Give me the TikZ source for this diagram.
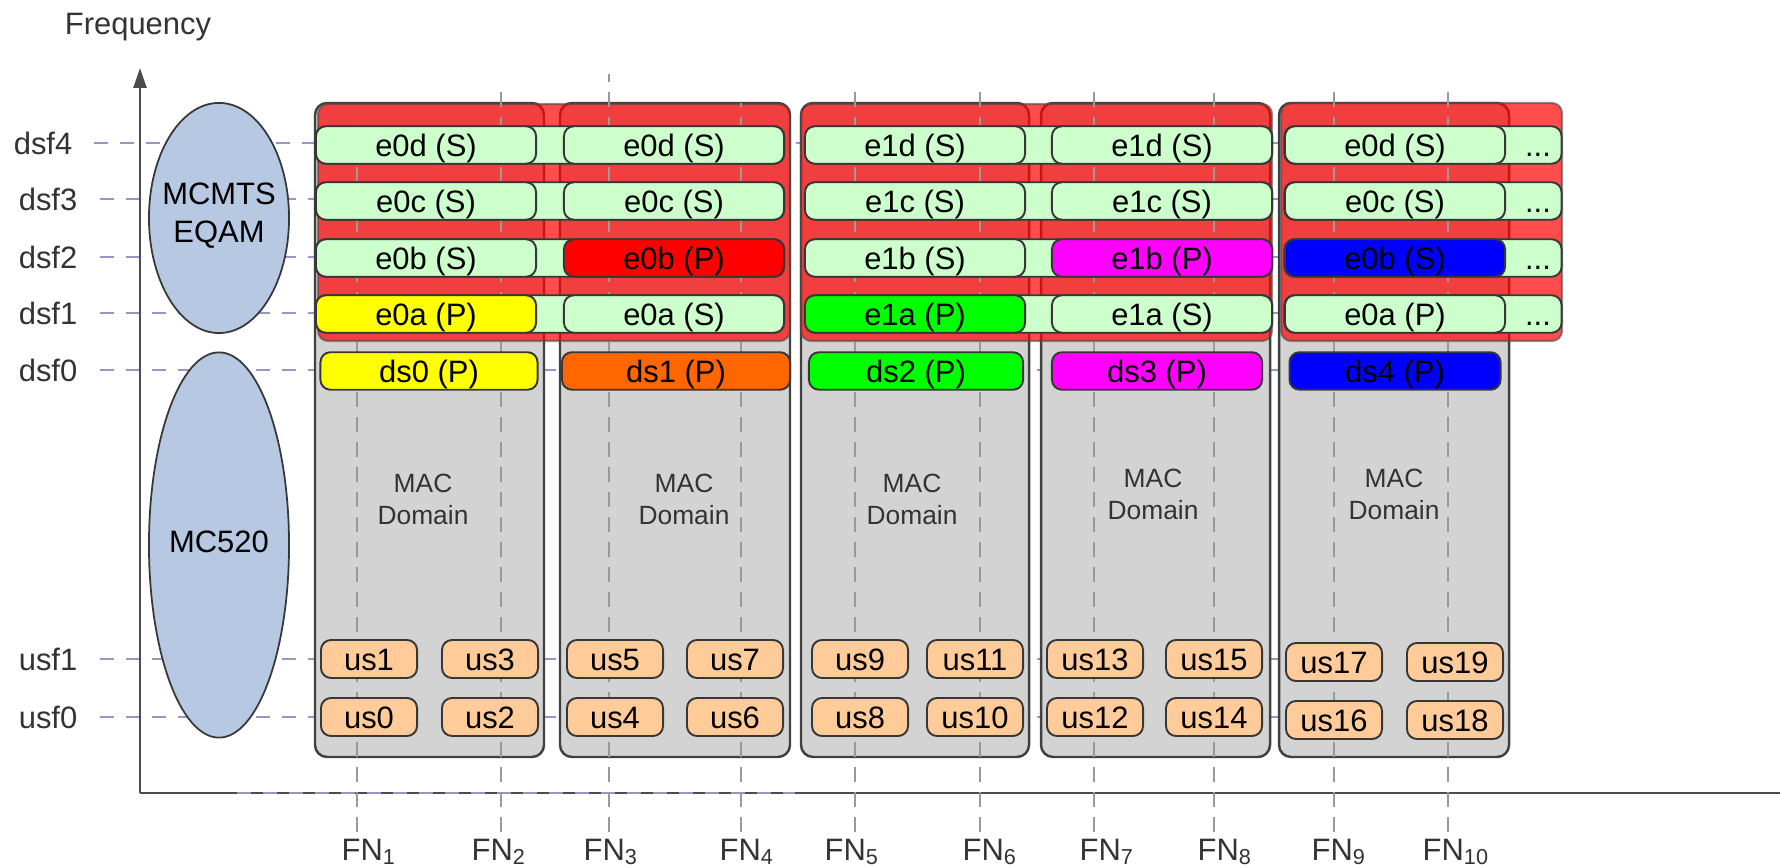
\documentclass[tikz,border=0pt]{standalone}
\usepackage{fontspec}
\setmainfont{Liberation Sans}
\usetikzlibrary{arrows.meta,shapes.geometric}

\definecolor{egreen}{RGB}{204,255,204}
\definecolor{macgray}{RGB}{211,211,211}
\definecolor{ovalblue}{RGB}{183,200,227}
\definecolor{uspeach}{RGB}{255,204,153}
\definecolor{freqblue}{RGB}{150,150,200}
\definecolor{dsorange}{RGB}{255,102,0}
\definecolor{dsmagenta}{RGB}{255,0,255}
\definecolor{dsgreen}{RGB}{0,255,0}
\definecolor{dsyellow}{RGB}{255,255,0}
\definecolor{dsblue}{RGB}{0,0,255}
\definecolor{dsred}{RGB}{255,0,0}
\definecolor{edge}{RGB}{55,55,55}

\newcommand{\boxfont}{\fontsize{8.8pt}{10.8pt}\selectfont}
\newcommand{\macfont}{\fontsize{7.5pt}{9.1pt}\selectfont}

\begin{document}
\begin{tikzpicture}[
    x=0.01cm, y=-0.01cm,
    lbl/.style={font=\boxfont, text=black!80, inner sep=0pt},
    chan/.style={draw=edge, line width=0.55pt, rounded corners=0.1cm, minimum width=2.2cm, minimum height=0.375cm, inner sep=0pt, font=\boxfont, text height=7.9pt, text depth=1.6pt},
    lane/.style={chan, fill=egreen},
    usbox/.style={chan, fill=uspeach, minimum width=0.96cm, minimum height=0.38cm},
    macbox/.style={draw=black!75, line width=0.7pt, fill=macgray, rounded corners=0.12cm},
    grp/.style={fill=dsred, fill opacity=0.7, draw=black!70, draw opacity=0.6, line width=0.6pt, rounded corners=0.1cm},
    oval/.style={ellipse, draw=edge, line width=0.5pt, fill=ovalblue, inner sep=0pt},
    freqline/.style={freqblue, line width=0.75pt, dash pattern=on 0.14cm off 0.12cm},
    fnline/.style={black!40, line width=0.55pt, dash pattern=on 0.15cm off 0.1cm},
    axisline/.style={black!70, line width=0.7pt},
]
\useasboundingbox (0,0) rectangle (1780,868);

% frequency labels and lines
\node[lbl, anchor=base] (freq) at (138,35) {Frequency};
\node[lbl, anchor=east] (dsf4) at (73,143) {dsf4};
\node[lbl, anchor=east] (dsf3) at (78,199) {dsf3};
\node[lbl, anchor=east] (dsf2) at (78,257) {dsf2};
\node[lbl, anchor=east] (dsf1) at (78,313) {dsf1};
\node[lbl, anchor=east] (dsf0) at (78,370) {dsf0};
\node[lbl, anchor=east] (usf1) at (78,659) {usf1};
\node[lbl, anchor=east] (usf0) at (78,717) {usf0};

\draw[freqline, shorten <=0.21cm] (dsf4.east) -- ++(1432,0);
\draw[freqline, shorten <=0.22cm] (dsf3.east) -- ++(1427,0);
\draw[freqline, shorten <=0.22cm] (dsf2.east) -- ++(1427,0);
\draw[freqline, shorten <=0.22cm] (dsf1.east) -- ++(1427,0);
\draw[freqline, shorten <=0.22cm] (dsf0.east) -- ++(1427,0);
\draw[freqline, shorten <=0.22cm] (usf1.east) -- ++(1422,0);
\draw[freqline, shorten <=0.22cm] (usf0.east) -- ++(1422,0);

% axes
\coordinate (orig) at (140,793);
\draw[axisline, -{Triangle[length=0.2cm, width=0.13cm]}] (orig) -- (140,68);
\draw[axisline] (orig) -- (1780,793);
\draw[freqline] (237,793) -- (795,793);

% CMTS ovals
\node[oval, minimum width=1.4cm, minimum height=2.3cm] (eqam) at (219,218) {};
\node[lbl, align=center, text=black] (eqamtxt) at (219,216) {MCMTS\\EQAM};
\node[oval, minimum width=1.4cm, minimum height=3.85cm] (cmts) at (219,545) {};
\node[lbl, text=black] (cmtstxt) at (219,542) {MC520};

% MAC domains
\draw[macbox] (315,103) rectangle (544,757);
\draw[macbox] (560,103) rectangle (790,757);
\draw[macbox] (801,103) rectangle (1029,757);
\draw[macbox] (1041,103) rectangle (1270,757);
\draw[macbox] (1279,103) rectangle (1509,757);

% bonding groups
\draw[grp] (318,104) rectangle (790,341);
\draw[grp] (801,104) rectangle (1272,341);
\draw[grp] (1281,103) rectangle (1562,341);

% fiber nodes
\draw[fnline] (357,832) -- (357,125);
\draw[fnline] (501,832) -- (501,83);
\draw[fnline] (609,832) -- (609,74);
\draw[fnline] (741,832) -- (741,103);
\draw[fnline] (855,832) -- (855,83);
\draw[fnline] (980,832) -- (980,83);
\draw[fnline] (1094,832) -- (1094,83);
\draw[fnline] (1214,832) -- (1214,93);
\draw[fnline] (1334,832) -- (1334,83);
\draw[fnline] (1448,832) -- (1448,83);

\node[lbl, anchor=base west] (fn1) at (341,860) {FN\textsubscript{1}};
\node[lbl, anchor=base west] (fn2) at (471,860) {FN\textsubscript{2}};
\node[lbl, anchor=base west] (fn3) at (583,860) {FN\textsubscript{3}};
\node[lbl, anchor=base west] (fn4) at (719,860) {FN\textsubscript{4}};
\node[lbl, anchor=base west] (fn5) at (824,860) {FN\textsubscript{5}};
\node[lbl, anchor=base west] (fn6) at (962,860) {FN\textsubscript{6}};
\node[lbl, anchor=base west] (fn7) at (1079,860) {FN\textsubscript{7}};
\node[lbl, anchor=base west] (fn8) at (1197,860) {FN\textsubscript{8}};
\node[lbl, anchor=base west] (fn9) at (1311,860) {FN\textsubscript{9}};
\node[lbl, anchor=base west] (fn10) at (1422,860) {FN\textsubscript{10}};

% dsf4
\node[lane, minimum width=4.68cm] (g1d4) at (550,145) {};
\node[lane, minimum width=4.66cm] (g2d4) at (1039,145) {};
\node[lane, minimum width=2.77cm] (g3d4) at (1423,145) {};
\node[lbl, text=black, text height=7.9pt, text depth=1.6pt] (more4) at (1538,145) {...};
\node[lane] (c1d4) at (426,145) {e0d (S)};
\node[lane] (c2d4) at (674,145) {e0d (S)};
\node[lane] (c3d4) at (915,145) {e1d (S)};
\node[lane] (c4d4) at (1162,145) {e1d (S)};
\node[lane] (c5d4) at (1395,145) {e0d (S)};

% dsf3
\node[lane, minimum width=4.68cm] (g1d3) at (550,201) {};
\node[lane, minimum width=4.66cm] (g2d3) at (1039,201) {};
\node[lane, minimum width=2.77cm] (g3d3) at (1423,201) {};
\node[lbl, text=black, text height=7.9pt, text depth=1.6pt] (more3) at (1538,201) {...};
\node[lane] (c1d3) at (426,201) {e0c (S)};
\node[lane] (c2d3) at (674,201) {e0c (S)};
\node[lane] (c3d3) at (915,201) {e1c (S)};
\node[lane] (c4d3) at (1162,201) {e1c (S)};
\node[lane] (c5d3) at (1395,201) {e0c (S)};

% dsf2
\node[lane, minimum width=4.68cm] (g1d2) at (550,258) {};
\node[lane, minimum width=4.66cm] (g2d2) at (1039,258) {};
\node[lane, minimum width=2.77cm] (g3d2) at (1423,258) {};
\node[lbl, text=black, text height=7.9pt, text depth=1.6pt] (more2) at (1538,258) {...};
\node[lane] (c1d2) at (426,258) {e0b (S)};
\node[chan, fill=dsred] (c2d2) at (674,258) {e0b (P)};
\node[lane] (c3d2) at (915,258) {e1b (S)};
\node[chan, fill=dsmagenta] (c4d2) at (1162,258) {e1b (P)};
\node[chan, fill=dsblue] (c5d2) at (1395,258) {e0b (S)};

% dsf1
\node[lane, minimum width=4.68cm] (g1d1) at (550,314) {};
\node[lane, minimum width=4.66cm] (g2d1) at (1039,314) {};
\node[lane, minimum width=2.77cm] (g3d1) at (1423,314) {};
\node[lbl, text=black, text height=7.9pt, text depth=1.6pt] (more1) at (1538,314) {...};
\node[chan, fill=dsyellow] (c1d1) at (426,314) {e0a (P)};
\node[lane] (c2d1) at (674,314) {e0a (S)};
\node[chan, fill=dsgreen] (c3d1) at (915,314) {e1a (P)};
\node[lane] (c4d1) at (1162,314) {e1a (S)};
\node[lane] (c5d1) at (1395,314) {e0a (P)};

% dsf0
\node[chan, fill=dsyellow, minimum width=2.17cm] (ds0) at (429,371) {ds0 (P)};
\node[chan, fill=dsorange, minimum width=2.28cm] (ds1) at (676,371) {ds1 (P)};
\node[chan, fill=dsgreen, minimum width=2.14cm] (ds2) at (916,371) {ds2 (P)};
\node[chan, fill=dsmagenta, minimum width=2.1cm] (ds3) at (1157,371) {ds3 (P)};
\node[chan, fill=dsblue, minimum width=2.11cm] (ds4) at (1395,371) {ds4 (P)};

% MAC domain text
\node[lbl, font=\macfont, align=center] (mac1) at (423,499) {MAC\\Domain};
\node[lbl, font=\macfont, align=center] (mac2) at (684,499) {MAC\\Domain};
\node[lbl, font=\macfont, align=center] (mac3) at (912,499) {MAC\\Domain};
\node[lbl, font=\macfont, align=center] (mac4) at (1153,494) {MAC\\Domain};
\node[lbl, font=\macfont, align=center] (mac5) at (1394,494) {MAC\\Domain};

% upstream channels
\node[usbox] (us1) at (369,659) {us1};
\node[usbox] (us3) at (490,659) {us3};
\node[usbox] (us5) at (615,659) {us5};
\node[usbox] (us7) at (735,659) {us7};
\node[usbox] (us9) at (860,659) {us9};
\node[usbox] (us11) at (975,659) {us11};
\node[usbox] (us13) at (1095,659) {us13};
\node[usbox] (us15) at (1214,659) {us15};
\node[usbox] (us17) at (1334,662) {us17};
\node[usbox] (us19) at (1455,662) {us19};

\node[usbox] (us0) at (369,717) {us0};
\node[usbox] (us2) at (490,717) {us2};
\node[usbox] (us4) at (615,717) {us4};
\node[usbox] (us6) at (735,717) {us6};
\node[usbox] (us8) at (860,717) {us8};
\node[usbox] (us10) at (975,717) {us10};
\node[usbox] (us12) at (1095,717) {us12};
\node[usbox] (us14) at (1214,717) {us14};
\node[usbox] (us16) at (1334,720) {us16};
\node[usbox] (us18) at (1455,720) {us18};
\end{tikzpicture}
\end{document}
